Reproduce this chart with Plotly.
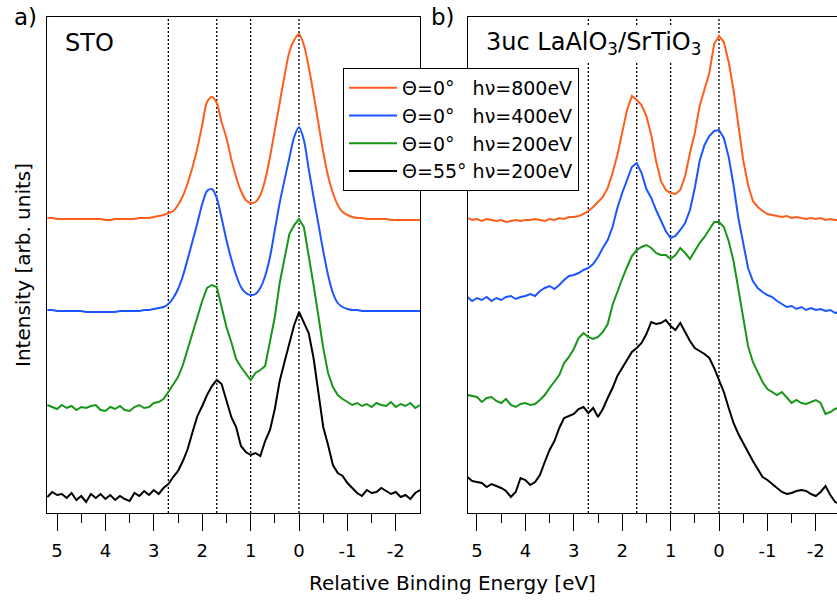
import numpy as np
import plotly.graph_objects as go

# Relative binding energy grid (eV), 0.1 eV steps from 5.2 down to -2.5
energy = np.round(np.arange(52, -26, -1) / 10.0, 1)

# Panel a) STO - offset spectra (arb. units)
sto_800 = [295, 295, 294, 294, 294, 294, 294, 294, 294, 294,
           294, 294, 293, 293, 294, 294, 294, 294, 294, 295,
           295, 295, 296, 297, 298, 300, 302, 308, 317, 330,
           346, 365, 388, 411, 416, 410, 391, 375, 354, 336,
           322, 313, 310, 311, 318, 333, 356, 383, 410, 437,
           461, 473, 479, 468, 446, 419, 390, 361, 337, 320,
           308, 301, 298, 296, 295, 295, 294, 294, 294, 294,
           294, 293, 293, 293, 293, 293, 293, 293]
sto_400 = [203, 203, 202, 202, 202, 202, 202, 202, 201, 201,
           201, 201, 201, 201, 201, 202, 202, 202, 202, 202,
           203, 203, 204, 205, 206, 209, 215, 224, 237, 254,
           272, 290, 309, 322, 324, 315, 295, 273, 254, 238,
           226, 220, 218, 219, 225, 237, 256, 283, 310, 333,
           355, 376, 386, 373, 344, 316, 289, 262, 238, 220,
           210, 206, 204, 203, 203, 202, 202, 202, 202, 202,
           202, 202, 202, 202, 202, 202, 202, 202]
sto_200 = [108, 106, 104, 108, 105, 107, 103, 106, 105, 107,
           108, 103, 102, 106, 104, 107, 103, 102, 106, 108,
           105, 106, 110, 111, 114, 121, 128, 136, 148, 164,
           180, 196, 212, 225, 228, 226, 206, 186, 171, 154,
           146, 140, 133, 140, 143, 147, 170, 196, 230, 255,
           279, 288, 294, 286, 258, 228, 197, 165, 140, 126,
           118, 114, 111, 108, 110, 107, 109, 106, 110, 108,
           107, 111, 106, 109, 107, 110, 105, 108]
sto_200_55 = [16, 21, 18, 19, 15, 20, 13, 17, 11, 19,
              15, 19, 14, 18, 13, 17, 14, 12, 20, 17,
              22, 18, 23, 19, 25, 29, 36, 42, 52, 64,
              81, 97, 107, 118, 127, 133, 129, 112, 96, 86,
              67, 61, 58, 60, 57, 72, 83, 104, 132, 151,
              171, 188, 201, 190, 180, 155, 118, 86, 68, 48,
              40, 37, 30, 25, 20, 17, 23, 20, 21, 25,
              22, 19, 21, 16, 18, 14, 20, 23]

# Panel b) 3uc LaAlO3/SrTiO3 - offset spectra (arb. units)
lao_800 = [295, 293, 294, 292, 294, 293, 292, 293, 291, 292,
           293, 292, 293, 293, 294, 293, 292, 294, 293, 295,
           294, 296, 296, 297, 299, 302, 306, 311, 316, 325,
           340, 358, 380, 403, 417, 413, 408, 397, 378, 352,
           332, 323, 320, 319, 323, 337, 360, 380, 407, 424,
           440, 469, 477, 471, 451, 423, 387, 353, 328, 312,
           306, 302, 299, 298, 297, 296, 297, 295, 296, 295,
           294, 295, 294, 295, 293, 294, 293, 293]
lao_400 = [216, 212, 215, 213, 216, 212, 215, 213, 216, 217,
           214, 216, 217, 219, 217, 222, 225, 227, 224, 228,
           233, 237, 238, 240, 243, 245, 249, 256, 265, 273,
           286, 305, 320, 334, 346, 350, 340, 324, 315, 303,
           292, 282, 275, 277, 283, 290, 303, 325, 352, 368,
           377, 382, 383, 375, 356, 328, 295, 268, 245, 232,
           225, 221, 218, 216, 212, 209, 206, 207, 204, 206,
           203, 205, 203, 204, 202, 203, 200, 201]
lao_200 = [118, 117, 116, 111, 115, 116, 112, 110, 114, 108,
           106, 109, 110, 108, 109, 113, 118, 125, 131, 138,
           150, 156, 164, 175, 180, 176, 174, 176, 181, 189,
           208, 222, 234, 246, 257, 263, 266, 268, 265, 260,
           258, 258, 254, 258, 265, 260, 254, 262, 270, 276,
           283, 291, 291, 286, 272, 252, 224, 195, 167, 151,
           141, 131, 124, 121, 118, 121, 116, 110, 113, 110,
           109, 111, 113, 110, 99, 101, 104, 106]
lao_200_55 = [36, 32, 31, 30, 26, 29, 27, 25, 22, 16,
              21, 35, 33, 28, 31, 38, 51, 63, 72, 85,
              95, 97, 99, 104, 106, 100, 105, 96, 104, 115,
              125, 137, 145, 154, 161, 165, 170, 179, 191, 189,
              190, 193, 187, 183, 190, 181, 172, 165, 162, 159,
              155, 145, 133, 121, 105, 90, 79, 70, 60, 52,
              44, 36, 33, 29, 25, 21, 19, 20, 22, 23,
              22, 19, 17, 21, 27, 18, 11, 9]

series_names = ["\u0398=0\u00b0\u00a0\u00a0\u00a0h\u03bd=800eV",
                "\u0398=0\u00b0\u00a0\u00a0\u00a0h\u03bd=400eV",
                "\u0398=0\u00b0\u00a0\u00a0\u00a0h\u03bd=200eV",
                "\u0398=55\u00b0\u00a0h\u03bd=200eV"]
series_colors = ["rgb(255,95,28)", "rgb(28,85,255)", "rgb(22,150,22)", "black"]

panel_a = [sto_800, sto_400, sto_200, sto_200_55]
panel_b = [lao_800, lao_400, lao_200, lao_200_55]

# Guide energies marked with dotted lines (eV)
guide_energies = [2.7, 1.7, 1.0, 0.0]

tick_values = [5, 4, 3, 2, 1, 0, -1, -2]
tick_labels = ["5", "4", "3", "2", "1", "0", "-1", "-2"]
minor_values = [4.5, 3.5, 2.5, 1.5, 0.5, -0.5, -1.5]

FONT = "DejaVu Sans"

fig = go.Figure()
for i, (name, color) in enumerate(zip(series_names, series_colors)):
    smooth = i < 2
    fig.add_trace(go.Scatter(
        x=energy, y=panel_a[i], mode="lines", name=name,
        line=dict(color=color, width=2, shape="spline" if smooth else "linear",
                  smoothing=0.8 if smooth else None),
        xaxis="x", yaxis="y", showlegend=True))
for i, (name, color) in enumerate(zip(series_names, series_colors)):
    fig.add_trace(go.Scatter(
        x=energy, y=panel_b[i], mode="lines", name=name,
        line=dict(color=color, width=2),
        xaxis="x2", yaxis="y2", showlegend=False))

xaxis_style = dict(
    showline=True, linecolor="black", linewidth=1, mirror=True,
    ticks="outside", ticklen=17, tickwidth=1, tickcolor="black",
    tickmode="array", tickvals=tick_values, ticktext=tick_labels,
    ticklabelstandoff=4,
    tickfont=dict(family=FONT, size=18, color="black"),
    minor=dict(tickmode="array", tickvals=minor_values, ticks="outside",
               ticklen=9, tickwidth=1, tickcolor="black", showgrid=False),
    showgrid=False, zeroline=False,
)
yaxis_style = dict(range=[0, 496], showticklabels=False, ticks="",
                   showgrid=False, zeroline=False, showline=True,
                   linecolor="black", linewidth=1)

fig.update_layout(
    width=837, height=604,
    margin=dict(l=47, r=0, t=17, b=91),
    paper_bgcolor="white", plot_bgcolor="white",
    font=dict(family=FONT, size=18, color="black"),
    xaxis=dict(domain=[0, 0.4722], range=[5.207, -2.5], anchor="y", **xaxis_style),
    xaxis2=dict(domain=[0.5329, 1.0], range=[5.186, -2.438], anchor="y2", **xaxis_style),
    yaxis=dict(anchor="x", mirror=True, **yaxis_style),
    yaxis2=dict(anchor="x2", mirror=False, **yaxis_style),
    legend=dict(x=0.3747, y=0.8972, xanchor="left", yanchor="top",
                bgcolor="white", bordercolor="black", borderwidth=1,
                font=dict(family=FONT, size=19, color="black"),
                itemwidth=48, tracegroupgap=0),
)

for xref in ["x", "x2"]:
    for e in guide_energies:
        fig.add_shape(type="line", xref=xref, yref=xref.replace("x", "y") + " domain",
                      x0=e, x1=e, y0=0, y1=1, layer="below",
                      line=dict(color="black", width=1.3, dash="2px,2px"))

annotations = [
    dict(text="a)", x=-0.0278, y=1.001, xanchor="center", yanchor="middle",
         font=dict(size=23)),
    dict(text="b)", x=0.5013, y=1.001, xanchor="center", yanchor="middle",
         font=dict(size=23)),
    dict(text="STO", x=0.0203, y=0.9476, xanchor="left", yanchor="middle",
         font=dict(size=24)),
    dict(text="3uc LaAlO<sub>3</sub>/SrTiO<sub>3</sub>", x=0.5519, y=0.9456,
         xanchor="left", yanchor="middle", font=dict(size=24),
         bgcolor="white", borderpad=2),
    dict(text="Relative Binding Energy [eV]", x=0.5127, y=-0.1421,
         xanchor="center", yanchor="middle", font=dict(size=20)),
    dict(text="Intensity [arb. units]", x=-0.0304, y=0.5, textangle=-90,
         xanchor="center", yanchor="middle", font=dict(size=20)),
]
for a in annotations:
    fig.add_annotation(xref="paper", yref="paper", showarrow=False, **a)

fig.write_html("out.html")
